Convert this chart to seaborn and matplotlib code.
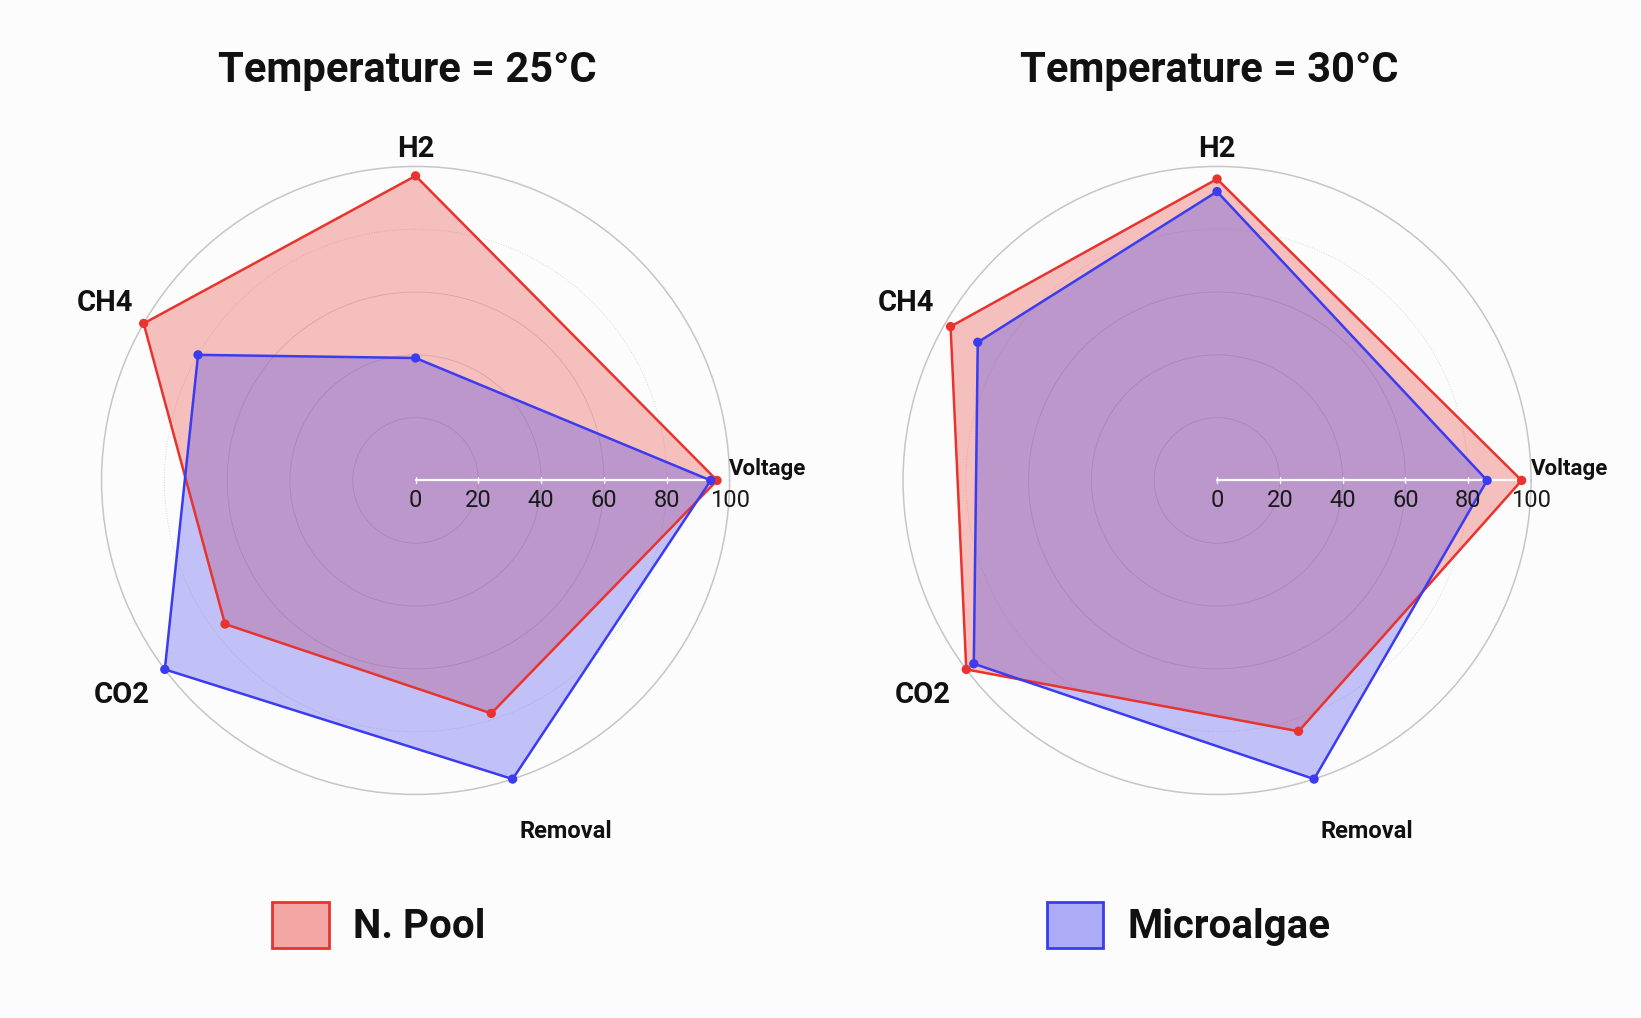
import numpy as np
import matplotlib
matplotlib.use("Agg")
import matplotlib.pyplot as plt
import matplotlib.transforms as mtransforms
from matplotlib.colors import to_rgba
from matplotlib.patches import Patch
import seaborn as sns

# data
categories = ["Voltage", "H2", "CH4", "CO2", "Removal"]
cat_angles_deg = [0, 90, 150, 217, 288]
titles = ["Temperature = 25°C", "Temperature = 30°C"]
series_names = ["N. Pool", "Microalgae"]
pool_25 = [96, 97, 100, 76, 78]
algae_25 = [94, 39, 80, 100, 100]
pool_30 = [97, 96, 98, 100, 84]
algae_30 = [86, 92, 88, 97, 100]
r_ticks = [0, 20, 40, 60, 80, 100]

sns.set_theme(style="white")
FAM = ["Roboto", "Liberation Sans", "DejaVu Sans"]
plt.rcParams["font.family"] = FAM

palette = dict(zip(series_names, ["#e8332e", "#3b3bf0"]))
BG = "#fcfcfc"
INK = "#111111"

# label placement: r, ha, va, size, angle nudge (deg)
label_style = {
    "Voltage": (100, "left", "center", 16, 2),
    "H2": (101, "center", "bottom", 21, 0),
    "CH4": (104, "right", "bottom", 21, 0),
    "CO2": (106, "right", "top", 21, 0),
    "Removal": (113, "left", "top", 17, -1),
}

fig = plt.figure(figsize=(16.41, 10.18), dpi=100, facecolor=BG)

panels = [
    (titles[0], pool_25, algae_25, [0.0619, 0.2196, 0.3827, 0.6169], 0.248),
    (titles[1], pool_30, algae_30, [0.5503, 0.2196, 0.3827, 0.6169], 0.737),
]

theta = np.deg2rad(cat_angles_deg)
theta_closed = np.append(theta, 2 * np.pi)

for title, pool, algae, rect, tx in panels:
    ax = fig.add_axes(rect, projection="polar")
    ax.set_facecolor("none")
    ax.set_ylim(0, 100)
    ax.set_xticks([])
    ax.set_yticks([20, 40, 60, 80])
    ax.set_yticklabels([])
    ax.yaxis.grid(True, color="#bdbdbd", lw=0.7, alpha=0.55)
    ax.xaxis.grid(False)
    ax.yaxis.get_gridlines()[3].set_linestyle(":")
    ax.spines["polar"].set_color("#c6c6c6")
    ax.spines["polar"].set_linewidth(1.1)

    for name, vals in zip(series_names, [pool, algae]):
        c = palette[name]
        v = np.append(vals, vals[0])
        ax.fill(theta_closed, v, color=c, alpha=0.3, lw=0, zorder=2)
        sns.lineplot(x=theta_closed, y=v, sort=False, estimator=None, ax=ax,
                     color=c, lw=1.8, zorder=3)
        ax.lines[-1].set_clip_on(False)
        sns.scatterplot(x=theta, y=vals, ax=ax, color=c, s=45,
                        edgecolor="none", zorder=4)
        ax.collections[-1].set_clip_on(False)
    ax.set_xlabel("")
    ax.set_ylabel("")

    # radial axis line with labels
    ax.plot([0, 0], [0, 100], color="white", lw=1.6, zorder=2.5)
    ax.plot(np.zeros(len(r_ticks)), r_ticks, ls="none", marker="|",
            color="white", ms=5, zorder=2.5)
    off = mtransforms.offset_copy(ax.transData, fig=fig, x=0, y=-6, units="points")
    for r in r_ticks:
        ax.text(0, r, str(r), transform=off, ha="center", va="top",
                fontsize=17, color="#1a1a1a", zorder=5)

    for cat, ang in zip(categories, cat_angles_deg):
        r, ha, va, size, nudge = label_style[cat]
        ax.text(np.deg2rad(ang + nudge), r, cat, ha=ha, va=va, fontsize=size,
                fontweight="bold", color=INK, clip_on=False)

    fig.text(tx, 0.931, title, ha="center", va="center", fontsize=30,
             fontweight="bold", color=INK)

leg_pos = [0.166, 0.638]
for name, x in zip(series_names, leg_pos):
    c = palette[name]
    h = Patch(facecolor=to_rgba(c, 0.42), edgecolor=c, lw=2, label=name)
    lg = fig.legend(handles=[h], loc="center left", bbox_to_anchor=(x, 0.0914),
                    frameon=False, handlelength=1.4, handleheight=1.4,
                    handletextpad=0.6, borderpad=0, borderaxespad=0,
                    prop={"family": FAM, "weight": "bold", "size": 29})
    for t in lg.get_texts():
        t.set_color(INK)

fig.savefig("out.png", dpi=100, facecolor=BG)
